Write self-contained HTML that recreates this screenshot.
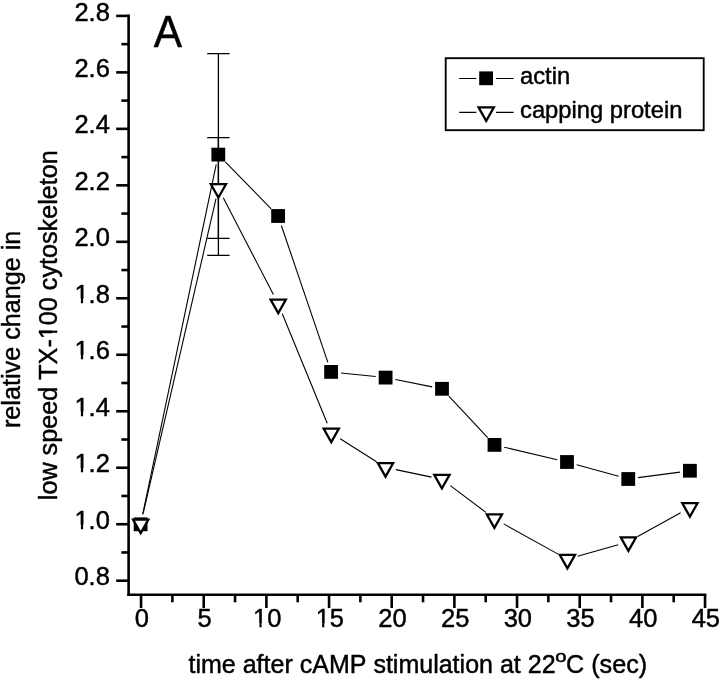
<!DOCTYPE html>
<html><head><meta charset="utf-8"><title>Figure A</title>
<style>html,body{margin:0;padding:0;background:#fff;}body{width:720px;height:681px;overflow:hidden;font-family:"Liberation Sans",sans-serif;}svg{display:block;will-change:transform;}text{font-family:"Liberation Sans",sans-serif;fill:#000;font-kerning:none;stroke:#000;stroke-width:0.45px;stroke-linejoin:round;}</style>
</head><body>
<svg width="720" height="681" viewBox="0 0 720 681">
<rect x="0" y="0" width="720" height="681" fill="#fff"/>
<g stroke="#000" stroke-width="2.6" fill="none" stroke-linecap="butt">
<path d="M128.60 14.60 V596.10"/>
<path d="M127.30 594.80 H706.34"/>
<path d="M128.60 580.70 H116.20"/>
<path d="M128.60 552.46 H121.40"/>
<path d="M128.60 524.22 H116.20"/>
<path d="M128.60 495.98 H121.40"/>
<path d="M128.60 467.74 H116.20"/>
<path d="M128.60 439.50 H121.40"/>
<path d="M128.60 411.26 H116.20"/>
<path d="M128.60 383.02 H121.40"/>
<path d="M128.60 354.78 H116.20"/>
<path d="M128.60 326.54 H121.40"/>
<path d="M128.60 298.30 H116.20"/>
<path d="M128.60 270.06 H121.40"/>
<path d="M128.60 241.82 H116.20"/>
<path d="M128.60 213.58 H121.40"/>
<path d="M128.60 185.34 H116.20"/>
<path d="M128.60 157.10 H121.40"/>
<path d="M128.60 128.86 H116.20"/>
<path d="M128.60 100.62 H121.40"/>
<path d="M128.60 72.38 H116.20"/>
<path d="M128.60 44.14 H121.40"/>
<path d="M128.60 15.90 H116.20"/>
<path d="M141.05 594.80 V608.00"/>
<path d="M172.38 594.80 V602.30"/>
<path d="M203.72 594.80 V608.00"/>
<path d="M235.05 594.80 V602.30"/>
<path d="M266.38 594.80 V608.00"/>
<path d="M297.71 594.80 V602.30"/>
<path d="M329.05 594.80 V608.00"/>
<path d="M360.38 594.80 V602.30"/>
<path d="M391.71 594.80 V608.00"/>
<path d="M423.04 594.80 V602.30"/>
<path d="M454.38 594.80 V608.00"/>
<path d="M485.71 594.80 V602.30"/>
<path d="M517.04 594.80 V608.00"/>
<path d="M548.37 594.80 V602.30"/>
<path d="M579.70 594.80 V608.00"/>
<path d="M611.04 594.80 V602.30"/>
<path d="M642.37 594.80 V608.00"/>
<path d="M673.70 594.80 V602.30"/>
<path d="M705.04 594.80 V608.00"/>
</g>
<text x="74.45" y="585.30" font-size="25.5">0.8</text>
<text x="74.45" y="528.82" font-size="25.5">1.0</text><rect x="75.20" y="524.51" width="5.67" height="6.51" fill="#fff"/><rect x="83.12" y="524.51" width="5.40" height="6.51" fill="#fff"/>
<text x="74.45" y="472.34" font-size="25.5">1.2</text><rect x="75.20" y="468.03" width="5.67" height="6.51" fill="#fff"/><rect x="83.12" y="468.03" width="5.40" height="6.51" fill="#fff"/>
<text x="74.45" y="415.86" font-size="25.5">1.4</text><rect x="75.20" y="411.55" width="5.67" height="6.51" fill="#fff"/><rect x="83.12" y="411.55" width="5.40" height="6.51" fill="#fff"/>
<text x="74.45" y="359.38" font-size="25.5">1.6</text><rect x="75.20" y="355.07" width="5.67" height="6.51" fill="#fff"/><rect x="83.12" y="355.07" width="5.40" height="6.51" fill="#fff"/>
<text x="74.45" y="302.90" font-size="25.5">1.8</text><rect x="75.20" y="298.59" width="5.67" height="6.51" fill="#fff"/><rect x="83.12" y="298.59" width="5.40" height="6.51" fill="#fff"/>
<text x="74.45" y="246.42" font-size="25.5">2.0</text>
<text x="74.45" y="189.94" font-size="25.5">2.2</text>
<text x="74.45" y="133.46" font-size="25.5">2.4</text>
<text x="74.45" y="76.98" font-size="25.5">2.6</text>
<text x="74.45" y="20.50" font-size="25.5">2.8</text>
<text x="134.76" y="627.40" font-size="25.5">0</text>
<text x="197.42" y="627.40" font-size="25.5">5</text>
<text x="253.00" y="627.40" font-size="25.5">10</text><rect x="253.75" y="623.09" width="5.67" height="6.51" fill="#fff"/><rect x="261.66" y="623.09" width="5.40" height="6.51" fill="#fff"/>
<text x="315.66" y="627.40" font-size="25.5">15</text><rect x="316.41" y="623.09" width="5.67" height="6.51" fill="#fff"/><rect x="324.33" y="623.09" width="5.40" height="6.51" fill="#fff"/>
<text x="378.33" y="627.40" font-size="25.5">20</text>
<text x="440.99" y="627.40" font-size="25.5">25</text>
<text x="503.66" y="627.40" font-size="25.5">30</text>
<text x="566.32" y="627.40" font-size="25.5">35</text>
<text x="628.99" y="627.40" font-size="25.5">40</text>
<text x="691.65" y="627.40" font-size="25.5">45</text>
<text x="188.5" y="672.5" font-size="25.03">time after cAMP stimulation at 22</text>
<text transform="translate(555.3 662.1) scale(1.3 1)" font-size="15.6">o</text>
<text x="566" y="672.5" font-size="25.2">C (sec)</text>
<g transform="translate(19.8 329.3) rotate(-90)"><text x="-98.76" y="0.00" font-size="25.2">relative change in</text></g>
<g transform="translate(56.6 325.1) rotate(-90)"><text x="-175.10" y="0.00" font-size="25.2">low speed TX-100 cytoskeleton</text><rect x="-13.29" y="-4.28" width="5.60" height="6.48" fill="#fff"/><rect x="-5.46" y="-4.28" width="5.34" height="6.48" fill="#fff"/></g>
<text transform="translate(153.8 46.8) scale(1 1.06)" font-size="42.5">A</text>
<g stroke="#000" stroke-width="1.3" fill="none">
<path d="M218.4 53.6 V255.4 M207.20000000000002 53.6 H229.6 M207.20000000000002 255.4 H229.6"/>
<path d="M218.4 137.7 V238.3 M207.20000000000002 137.7 H229.6 M207.20000000000002 238.3 H229.6"/>
</g>
<g stroke="#000" stroke-width="1.1" fill="none">
<path d="M142.66 514.51 L216.24 164.39"/>
<path d="M225.28 161.76 L271.12 208.84"/>
<path d="M281.32 225.47 L327.88 362.43"/>
<path d="M341.05 372.94 L375.65 376.56"/>
<path d="M395.41 379.55 L432.19 386.85"/>
<path d="M448.83 396.10 L487.67 437.60"/>
<path d="M504.23 447.20 L557.27 459.70"/>
<path d="M576.64 464.67 L618.61 476.33"/>
<path d="M638.16 477.67 L679.99 472.08"/>
<path d="M143.09 513.67 L216.01 198.73"/>
<path d="M223.27 197.81 L273.38 294.59"/>
<path d="M282.28 313.80 L327.22 423.20"/>
<path d="M340.19 438.69 L376.56 461.81"/>
<path d="M395.88 469.66 L431.52 477.09"/>
<path d="M450.37 485.62 L485.93 512.38"/>
<path d="M503.67 523.89 L558.13 554.11"/>
<path d="M577.59 556.33 L618.21 544.67"/>
<path d="M637.66 536.59 L680.64 512.66"/>
</g>
<rect x="133.70" y="517.40" width="13.8" height="13.8" fill="#000"/>
<rect x="211.40" y="147.70" width="13.8" height="13.8" fill="#000"/>
<rect x="271.20" y="209.10" width="13.8" height="13.8" fill="#000"/>
<rect x="324.20" y="365.00" width="13.8" height="13.8" fill="#000"/>
<rect x="378.70" y="370.70" width="13.8" height="13.8" fill="#000"/>
<rect x="435.10" y="381.90" width="13.8" height="13.8" fill="#000"/>
<rect x="487.60" y="438.00" width="13.8" height="13.8" fill="#000"/>
<rect x="560.10" y="455.10" width="13.8" height="13.8" fill="#000"/>
<rect x="621.35" y="472.10" width="13.8" height="13.8" fill="#000"/>
<rect x="683.00" y="463.85" width="13.8" height="13.8" fill="#000"/>
<path d="M133.05 519.65 H148.35 L140.70 533.15 Z" fill="#fff" stroke="#000" stroke-width="2.25" stroke-linejoin="miter"/>
<path d="M210.75 184.05 H226.05 L218.40 197.55 Z" fill="#fff" stroke="#000" stroke-width="2.25" stroke-linejoin="miter"/>
<path d="M270.60 299.65 H285.90 L278.25 313.15 Z" fill="#fff" stroke="#000" stroke-width="2.25" stroke-linejoin="miter"/>
<path d="M323.60 428.65 H338.90 L331.25 442.15 Z" fill="#fff" stroke="#000" stroke-width="2.25" stroke-linejoin="miter"/>
<path d="M377.85 463.15 H393.15 L385.50 476.65 Z" fill="#fff" stroke="#000" stroke-width="2.25" stroke-linejoin="miter"/>
<path d="M434.25 474.90 H449.55 L441.90 488.40 Z" fill="#fff" stroke="#000" stroke-width="2.25" stroke-linejoin="miter"/>
<path d="M486.75 514.40 H502.05 L494.40 527.90 Z" fill="#fff" stroke="#000" stroke-width="2.25" stroke-linejoin="miter"/>
<path d="M559.75 554.90 H575.05 L567.40 568.40 Z" fill="#fff" stroke="#000" stroke-width="2.25" stroke-linejoin="miter"/>
<path d="M620.75 537.40 H636.05 L628.40 550.90 Z" fill="#fff" stroke="#000" stroke-width="2.25" stroke-linejoin="miter"/>
<path d="M682.25 503.15 H697.55 L689.90 516.65 Z" fill="#fff" stroke="#000" stroke-width="2.25" stroke-linejoin="miter"/>
<rect x="445.7" y="58.2" width="258.0" height="72.0" fill="#fff" stroke="#000" stroke-width="1.85"/>
<g stroke="#000" stroke-width="1.1" fill="none">
<path d="M459.2 78.5 H476.4 M496.0 78.5 H513.6"/>
<path d="M459.2 112.4 H476.4 M496.0 112.4 H513.6"/>
</g>
<rect x="479.20" y="71.40" width="13.8" height="13.8" fill="#000"/>
<path d="M478.55 107.35 H493.85 L486.20 120.85 Z" fill="#fff" stroke="#000" stroke-width="2.25" stroke-linejoin="miter"/>
<text x="520.0" y="84.4" font-size="23.75">actin</text>
<text x="520.0" y="117.6" font-size="23.75">capping protein</text>
</svg></body></html>
